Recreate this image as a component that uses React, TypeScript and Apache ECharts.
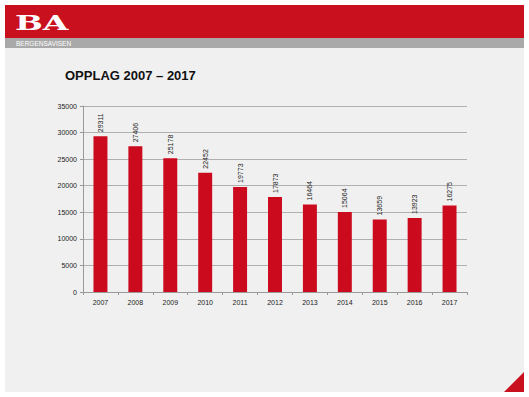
import React, { useEffect, useRef } from "react";
import * as echarts from "echarts";

const years = ["2007", "2008", "2009", "2010", "2011", "2012", "2013", "2014", "2015", "2016", "2017"];
const circulation = [29311, 27406, 25178, 22452, 19773, 17873, 16464, 15064, 13659, 13923, 16275];
const yTicks = { min: 0, max: 35000, interval: 5000 };
const title = "OPPLAG 2007 – 2017";
const brand = "BA";
const brandSub = "BERGENSAVISEN";

export default function App() {
  const ref = useRef<HTMLDivElement>(null);
  useEffect(() => {
    document.body.style.margin = "0";
    const chart = echarts.init(ref.current!, undefined, { renderer: "svg" });
    const font = "'Liberation Sans', Arial, sans-serif";
    chart.setOption({
      animation: false,
      backgroundColor: "#ffffff",
      textStyle: { fontFamily: font },
      graphic: [
        { type: "rect", shape: { x: 5, y: 48, width: 519, height: 344 }, style: { fill: "#f0f0f0" }, z: -10 },
        { type: "rect", shape: { x: 5, y: 5, width: 519, height: 33 }, style: { fill: "#c8101e" }, z: -5 },
        { type: "rect", shape: { x: 5, y: 38, width: 519, height: 10 }, style: { fill: "#a9a9a9" }, z: -5 },
        {
          type: "text", x: 15, y: 33, scaleX: 1.65, scaleY: 1,
          style: { text: brand, fill: "#ffffff", font: "bold 20px 'DejaVu Serif', 'Liberation Serif', serif", textVerticalAlign: "bottom", textAlign: "left" },
        },
        {
          type: "text", x: 16, y: 43.5,
          style: { text: brandSub, fill: "#ffffff", font: "6.5px " + font, textVerticalAlign: "middle" },
        },
        {
          type: "text", x: 65, y: 75,
          style: { text: title, fill: "#111111", font: "bold 13px " + font, textVerticalAlign: "middle" },
        },
        {
          type: "polygon",
          shape: { points: [[524, 372], [524, 392], [504, 392]] },
          style: { fill: "#c8101e" },
        },
      ],
      grid: { left: 83, right: 62, top: 106, bottom: 105 },
      xAxis: {
        type: "category",
        data: years,
        axisLine: { lineStyle: { color: "#999999" } },
        axisTick: { show: true, alignWithLabel: false, length: 3, lineStyle: { color: "#999999" } },
        axisLabel: { color: "#222222", fontSize: 7, margin: 7, fontFamily: font },
      },
      yAxis: {
        type: "value",
        min: yTicks.min,
        max: yTicks.max,
        interval: yTicks.interval,
        axisLine: { show: true, lineStyle: { color: "#999999" } },
        axisTick: { show: true, length: 3, lineStyle: { color: "#999999" } },
        axisLabel: { color: "#222222", fontSize: 7, margin: 6, fontFamily: font, formatter: (v: number) => String(v) },
        splitLine: { lineStyle: { color: "#b0b0b0", width: 1 } },
      },
      series: [
        {
          type: "bar",
          data: circulation,
          barWidth: "40%",
          itemStyle: { color: "#cc0a1e" },
          label: {
            show: true,
            position: "top",
            rotate: 90,
            align: "left",
            verticalAlign: "middle",
            distance: 4,
            fontSize: 7,
            color: "#222222",
            fontFamily: font,
          },
        },
      ],
    });
    return () => chart.dispose();
  }, []);
  return <div ref={ref} style={{ width: 529, height: 397 }} />;
}
